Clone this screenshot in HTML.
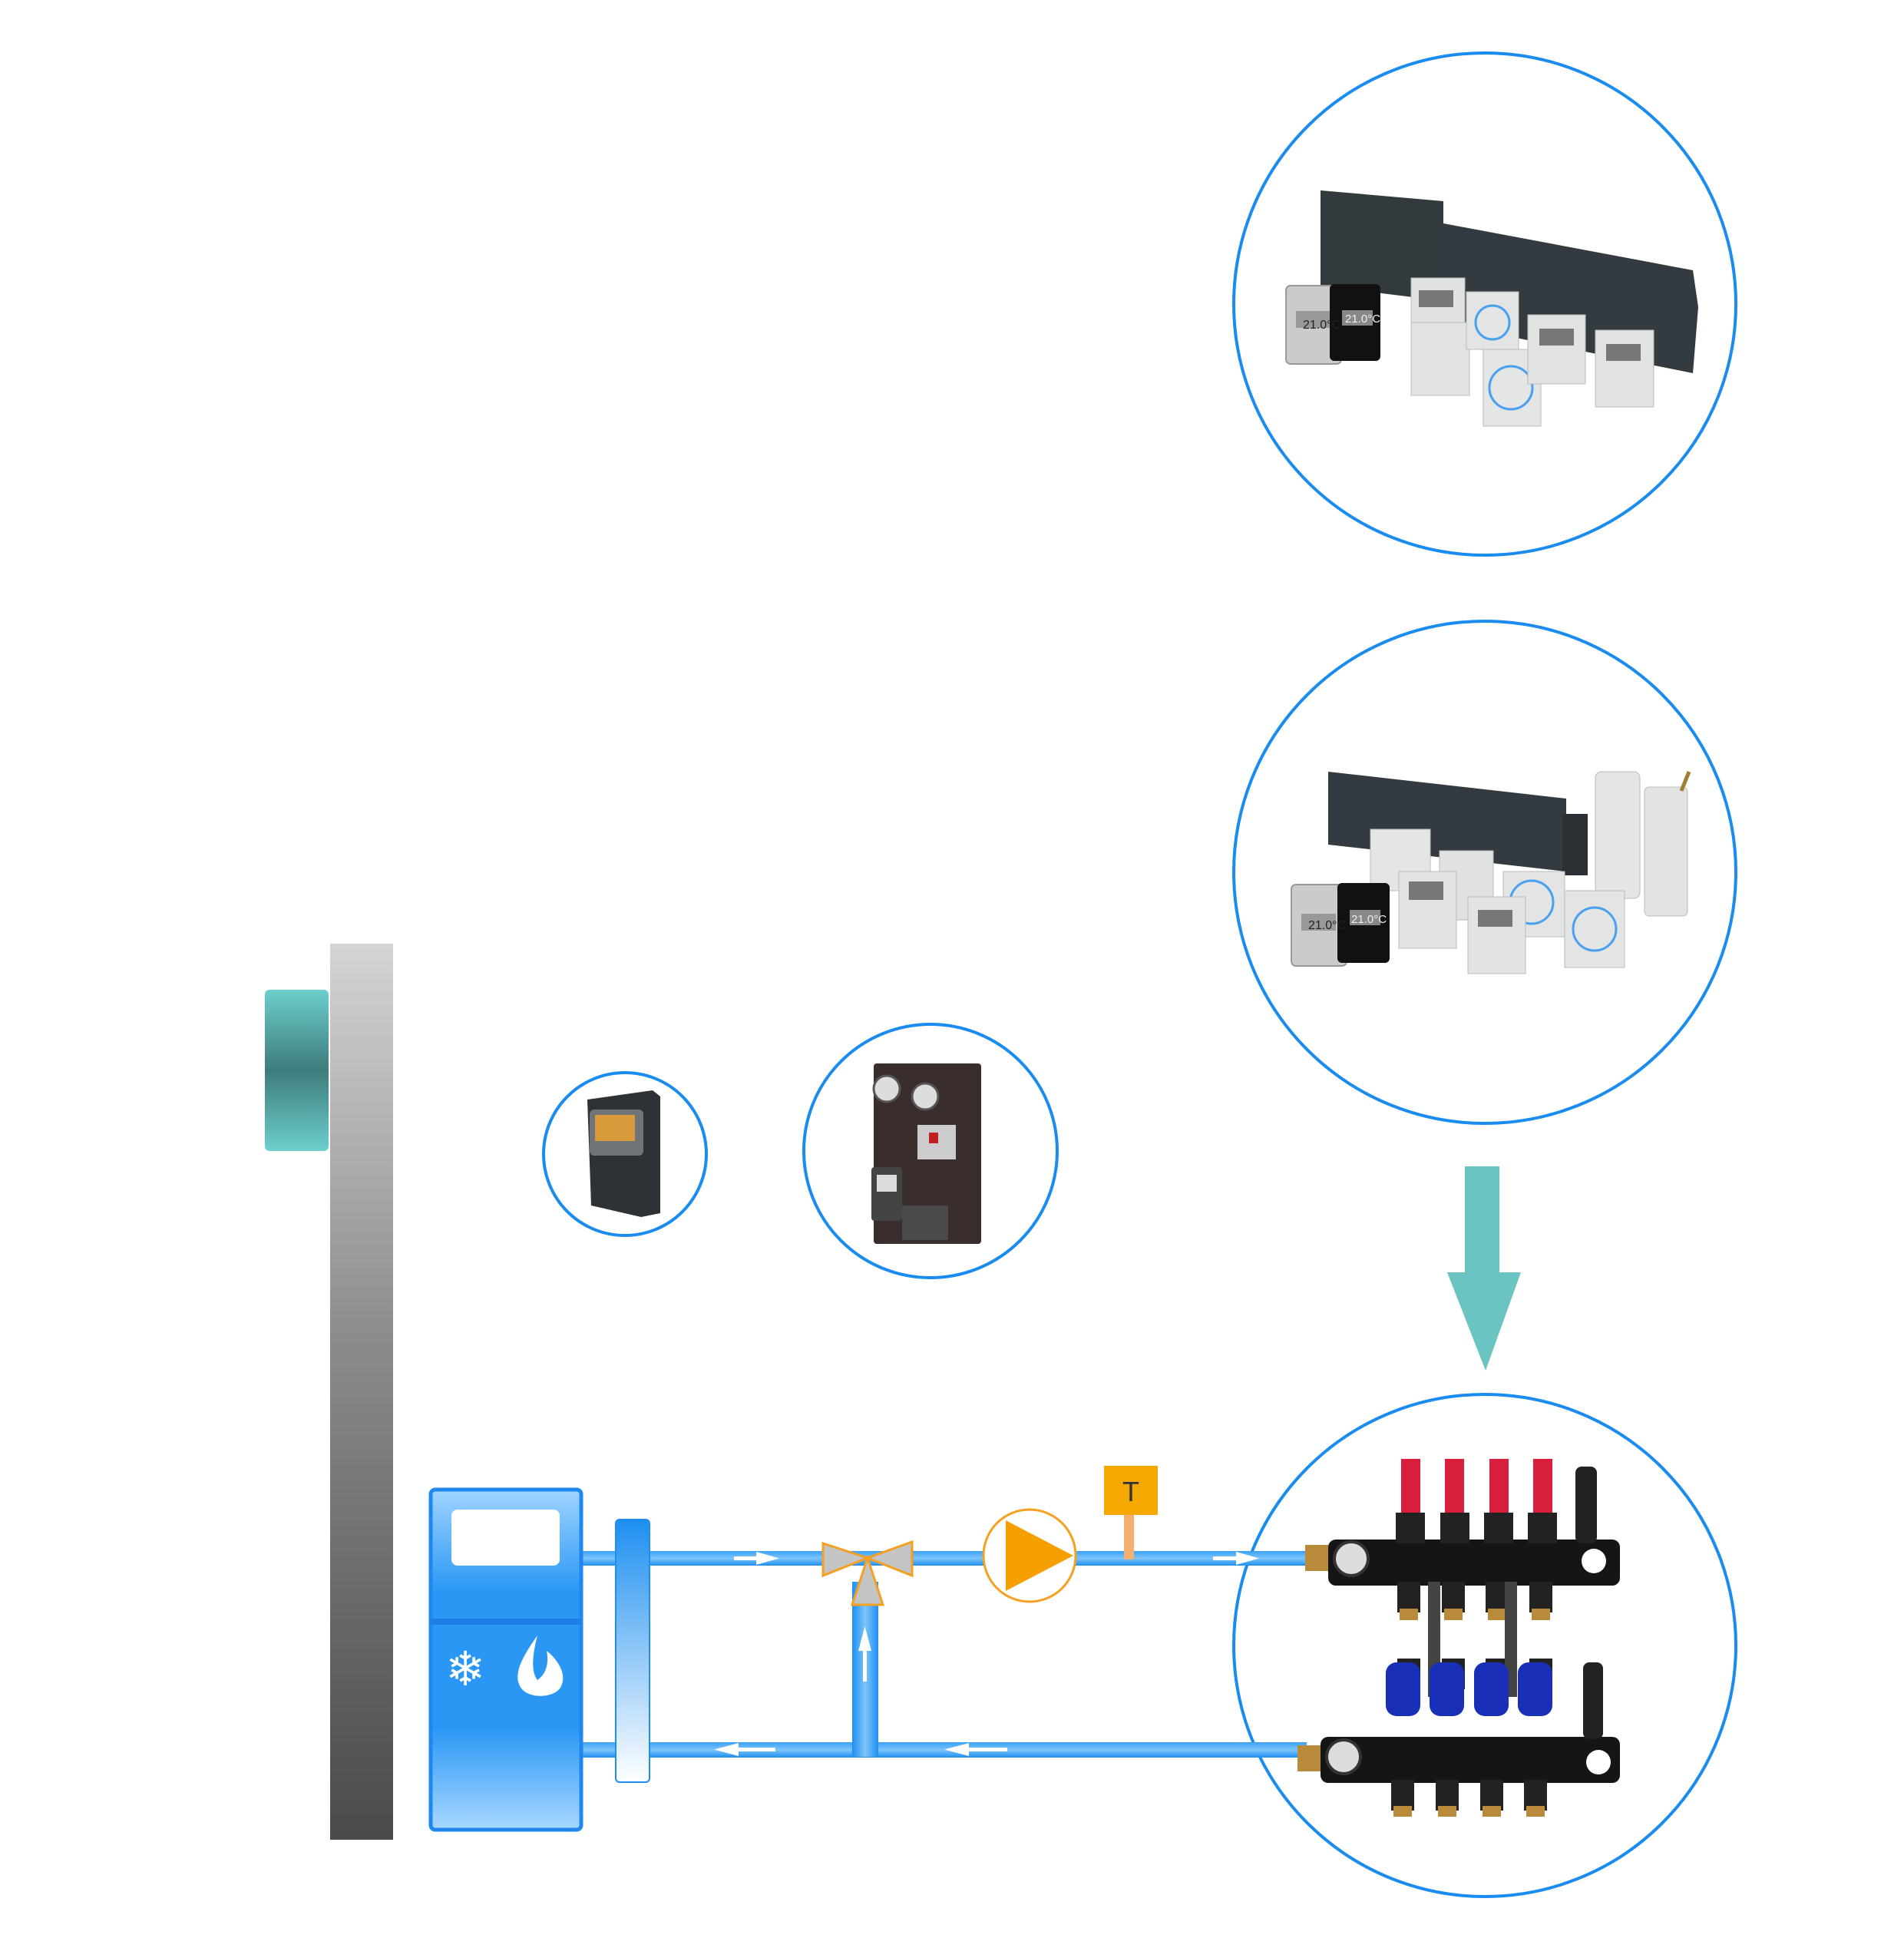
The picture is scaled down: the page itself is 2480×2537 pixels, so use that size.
<!DOCTYPE html>
<html><head><meta charset="utf-8"><style>html,body{margin:0;padding:0;background:#fff}svg{display:block}</style></head>
<body>
<svg width="2480" height="2537" viewBox="0 0 2480 2537" xmlns="http://www.w3.org/2000/svg">
<defs>
<linearGradient id="gbar" x1="0" y1="0" x2="0" y2="1"><stop offset="0" stop-color="#d4d4d4"/><stop offset="0.45" stop-color="#8a8a8a"/><stop offset="1" stop-color="#4a4a4a"/></linearGradient>
<linearGradient id="teal" x1="0" y1="0" x2="0" y2="1"><stop offset="0" stop-color="#6ccfcc"/><stop offset="0.5" stop-color="#3e7c7c"/><stop offset="1" stop-color="#6ccfcc"/></linearGradient>
<linearGradient id="box" x1="0" y1="0" x2="0" y2="1"><stop offset="0" stop-color="#9fd4ff"/><stop offset="0.3" stop-color="#2a97f5"/><stop offset="0.7" stop-color="#2a97f5"/><stop offset="1" stop-color="#a8d8ff"/></linearGradient>
<linearGradient id="sep" x1="0" y1="0" x2="0" y2="1"><stop offset="0" stop-color="#1e8ff0"/><stop offset="1" stop-color="#ffffff"/></linearGradient>
<linearGradient id="pipe" x1="0" y1="0" x2="0" y2="1"><stop offset="0" stop-color="#3aa2f5"/><stop offset="0.5" stop-color="#7cc4fb"/><stop offset="1" stop-color="#1e8ff0"/></linearGradient>
<linearGradient id="vpipe" x1="0" y1="0" x2="1" y2="0"><stop offset="0" stop-color="#1e8ff0"/><stop offset="0.5" stop-color="#7cc4fb"/><stop offset="1" stop-color="#1e8ff0"/></linearGradient>
</defs>

<rect x="430" y="1229" width="82" height="1167" fill="url(#gbar)"/>
<rect x="345" y="1289" width="83" height="210" rx="6" fill="url(#teal)"/>

<g fill="none" stroke="#1a8cf0" stroke-width="4">
<circle cx="1934" cy="396" r="327"/>
<circle cx="1934" cy="1136" r="327"/>
<circle cx="1934" cy="2143" r="327"/>
<circle cx="814" cy="1503" r="106"/>
<circle cx="1212" cy="1499" r="165"/>
</g>

<!-- circle1 products -->
<polygon points="1720,248 1880,262 1880,392 1720,372" fill="#333a3e"/>
<polygon points="1875,290 2205,352 2212,400 2205,486 1875,420" fill="#343b40"/>
<rect x="1675" y="372" width="72" height="102" rx="6" fill="#c9cbcc" stroke="#999" stroke-width="2"/>
<rect x="1688" y="405" width="45" height="22" fill="#999"/>
<rect x="1732" y="370" width="66" height="100" rx="6" fill="#111"/>
<rect x="1748" y="404" width="40" height="20" fill="#888"/>
<rect x="1838" y="362" width="70" height="70" fill="#dfe2e0" stroke="#b8bbb9"/>
<rect x="1838" y="420" width="76" height="95" fill="#e1e4e2" stroke="#b8bbb9"/>
<rect x="1910" y="380" width="68" height="75" fill="#e2e5e3" stroke="#b8bbb9"/>
<circle cx="1944" cy="420" r="22" fill="none" stroke="#4aa0f0" stroke-width="3"/>
<rect x="1932" y="455" width="75" height="100" fill="#e3e6e4" stroke="#b8bbb9"/>
<circle cx="1968" cy="505" r="28" fill="none" stroke="#4aa0f0" stroke-width="3"/>
<rect x="1990" y="410" width="75" height="90" fill="#e0e3e1" stroke="#b8bbb9"/>
<rect x="2005" y="428" width="45" height="22" fill="#777"/>
<rect x="2078" y="430" width="76" height="100" fill="#e0e3e1" stroke="#b8bbb9"/>
<rect x="2092" y="448" width="45" height="22" fill="#777"/>
<rect x="1848" y="378" width="45" height="22" fill="#777"/>
<text x="1697" y="428" font-family="Liberation Sans, sans-serif" font-size="16" fill="#222">21.0°C</text>
<text x="1752" y="420" font-family="Liberation Sans, sans-serif" font-size="15" fill="#eee">21.0°C</text>

<!-- circle2 products -->
<polygon points="1730,1005 2040,1040 2040,1135 1730,1100" fill="#343b40"/>
<polygon points="2035,1060 2068,1060 2068,1140 2035,1140" fill="#2a3034"/>
<rect x="2078" y="1005" width="58" height="165" rx="8" fill="#e4e6e5" stroke="#bbb"/>
<rect x="2142" y="1025" width="56" height="168" rx="6" fill="#e2e4e3" stroke="#bbb"/>
<line x1="2190" y1="1030" x2="2200" y2="1005" stroke="#a08030" stroke-width="5"/>
<rect x="1785" y="1080" width="78" height="80" fill="#e3e6e4" stroke="#bbb"/>
<rect x="1875" y="1108" width="70" height="90" fill="#dfe2e0" stroke="#bbb"/>
<rect x="1822" y="1135" width="75" height="100" fill="#e1e4e2" stroke="#bbb"/>
<rect x="1835" y="1148" width="45" height="24" fill="#777"/>
<rect x="1958" y="1135" width="80" height="85" fill="#e2e5e3" stroke="#bbb"/>
<circle cx="1995" cy="1175" r="28" fill="none" stroke="#4aa0f0" stroke-width="3"/>
<rect x="1912" y="1168" width="75" height="100" fill="#e1e4e2" stroke="#bbb"/>
<rect x="1925" y="1185" width="45" height="22" fill="#777"/>
<rect x="2038" y="1160" width="78" height="100" fill="#e2e5e3" stroke="#bbb"/>
<circle cx="2077" cy="1210" r="28" fill="none" stroke="#4aa0f0" stroke-width="3"/>
<rect x="1682" y="1152" width="72" height="106" rx="6" fill="#c9cbcc" stroke="#999" stroke-width="2"/>
<rect x="1695" y="1190" width="45" height="22" fill="#999"/>
<rect x="1742" y="1150" width="68" height="104" rx="6" fill="#111"/>
<rect x="1758" y="1185" width="40" height="20" fill="#888"/>
<text x="1704" y="1210" font-family="Liberation Sans, sans-serif" font-size="16" fill="#222">21.0°C</text>
<text x="1760" y="1202" font-family="Liberation Sans, sans-serif" font-size="15" fill="#eee">21.0°C</text>

<polygon points="765,1432 850,1420 860,1428 860,1580 835,1585 770,1570" fill="#2e3236"/>
<rect x="768" y="1445" width="70" height="60" rx="6" fill="#707478"/>
<rect x="775" y="1452" width="52" height="34" fill="#d89a3a"/>

<rect x="1138" y="1385" width="140" height="235" rx="4" fill="#3a2e2c"/>
<circle cx="1155" cy="1418" r="17" fill="#ddd" stroke="#555" stroke-width="3"/>
<circle cx="1205" cy="1428" r="17" fill="#ddd" stroke="#555" stroke-width="3"/>
<rect x="1195" y="1465" width="50" height="45" fill="#ccc"/>
<rect x="1210" y="1475" width="12" height="14" fill="#c02020"/>
<rect x="1135" y="1520" width="40" height="70" rx="4" fill="#444"/>
<rect x="1142" y="1530" width="26" height="22" fill="#ddd"/>
<rect x="1175" y="1570" width="60" height="45" fill="#4a4a4a"/>

<rect x="1908" y="1519" width="45" height="143" fill="#6ac4c2"/>
<polygon points="1885,1657 1981,1657 1935,1785" fill="#6ac4c2"/>

<rect x="757" y="2020" width="945" height="19" fill="url(#pipe)"/>
<rect x="757" y="2269" width="945" height="20" fill="url(#pipe)"/>
<rect x="1110" y="2060" width="34" height="228" fill="url(#vpipe)"/>

<g fill="#fff">
<rect x="956" y="2027" width="35" height="5"/><polygon points="985,2021 1015,2029.5 985,2038"/>
<rect x="1580" y="2027" width="35" height="5"/><polygon points="1610,2021 1640,2029.5 1610,2038"/>
<rect x="960" y="2276" width="50" height="5"/><polygon points="962,2270 930,2278.5 962,2287"/>
<rect x="1260" y="2276" width="52" height="5"/><polygon points="1262,2270 1230,2278.5 1262,2287"/>
<rect x="1124" y="2150" width="5" height="40"/><polygon points="1118,2150 1126.5,2118 1135,2150"/>
</g>

<rect x="561" y="1940" width="196" height="443" rx="6" fill="url(#box)" stroke="#1e88ee" stroke-width="5"/>
<line x1="561" y1="2112" x2="757" y2="2112" stroke="#1e7ee8" stroke-width="8"/>
<rect x="588" y="1966" width="141" height="73" rx="8" fill="#fff"/>
<text x="580" y="2195" font-family="DejaVu Sans, sans-serif" font-size="62" fill="#fff">❄</text>
<path d="M700 2130 C675 2165 668 2185 680 2200 C690 2212 720 2212 730 2198 C740 2180 725 2160 712 2150 C715 2165 712 2180 700 2188 C690 2175 695 2150 700 2130 Z" fill="#fff"/>

<rect x="802" y="1979" width="44" height="342" rx="5" fill="url(#sep)" stroke="#1e8ff0" stroke-width="2"/>

<g fill="#c4c4c4" stroke="#f5a020" stroke-width="3">
<polygon points="1072,2010 1130,2029 1072,2052"/>
<polygon points="1188,2008 1130,2029 1188,2052"/>
<polygon points="1110,2090 1130,2029 1150,2090"/>
</g>

<circle cx="1341" cy="2026" r="60" fill="#fff" stroke="#f5a020" stroke-width="3"/>
<polygon points="1310,1980 1398,2026 1310,2072" fill="#f5a000"/>

<rect x="1464" y="1970" width="13" height="61" fill="#f5b070"/>
<rect x="1438" y="1909" width="70" height="64" fill="#f5a800"/>
<text x="1473" y="1955" text-anchor="middle" font-family="Liberation Sans, sans-serif" font-size="36" fill="#333">T</text>

<g>
<rect x="1700" y="2012" width="30" height="34" fill="#b88a3a"/>
<rect x="1730" y="2005" width="380" height="60" rx="10" fill="#151515"/>
<circle cx="1760" cy="2030" r="22" fill="#ddd" stroke="#333" stroke-width="4"/>
<circle cx="2076" cy="2033" r="16" fill="#fff"/>
<g fill="#d81e3a">
<rect x="1825" y="1900" width="25" height="75"/><rect x="1882" y="1900" width="25" height="75"/><rect x="1940" y="1900" width="25" height="75"/><rect x="1997" y="1900" width="25" height="75"/>
</g>
<g fill="#222"><rect x="1818" y="1970" width="38" height="40"/><rect x="1876" y="1970" width="38" height="40"/><rect x="1933" y="1970" width="38" height="40"/><rect x="1990" y="1970" width="38" height="40"/>
<rect x="2052" y="1910" width="28" height="100" rx="8"/>
<rect x="1820" y="2060" width="30" height="40"/><rect x="1878" y="2060" width="30" height="40"/><rect x="1935" y="2060" width="30" height="40"/><rect x="1992" y="2060" width="30" height="40"/>
<rect x="1820" y="2160" width="30" height="40"/><rect x="1878" y="2160" width="30" height="40"/><rect x="1935" y="2160" width="30" height="40"/><rect x="1992" y="2160" width="30" height="40"/></g>
<g fill="#b88a3a"><rect x="1823" y="2095" width="24" height="15"/><rect x="1881" y="2095" width="24" height="15"/><rect x="1938" y="2095" width="24" height="15"/><rect x="1995" y="2095" width="24" height="15"/></g>
<rect x="1860" y="2060" width="16" height="150" fill="#444"/><rect x="1960" y="2060" width="16" height="150" fill="#444"/>
<g fill="#1a2fb8"><rect x="1805" y="2165" width="45" height="70" rx="14"/><rect x="1862" y="2165" width="45" height="70" rx="14"/><rect x="1920" y="2165" width="45" height="70" rx="14"/><rect x="1977" y="2165" width="45" height="70" rx="14"/></g>
<rect x="1690" y="2273" width="30" height="34" fill="#b88a3a"/>
<rect x="1720" y="2262" width="390" height="60" rx="10" fill="#151515"/>
<circle cx="1750" cy="2288" r="22" fill="#ddd" stroke="#333" stroke-width="4"/>
<circle cx="2082" cy="2295" r="16" fill="#fff"/>
<rect x="2062" y="2165" width="26" height="100" rx="8" fill="#222"/>
<g fill="#222"><rect x="1812" y="2318" width="30" height="40"/><rect x="1870" y="2318" width="30" height="40"/><rect x="1928" y="2318" width="30" height="40"/><rect x="1985" y="2318" width="30" height="40"/></g>
<g fill="#b88a3a"><rect x="1815" y="2352" width="24" height="14"/><rect x="1873" y="2352" width="24" height="14"/><rect x="1931" y="2352" width="24" height="14"/><rect x="1988" y="2352" width="24" height="14"/></g>
</g>
</svg>
</body></html>
